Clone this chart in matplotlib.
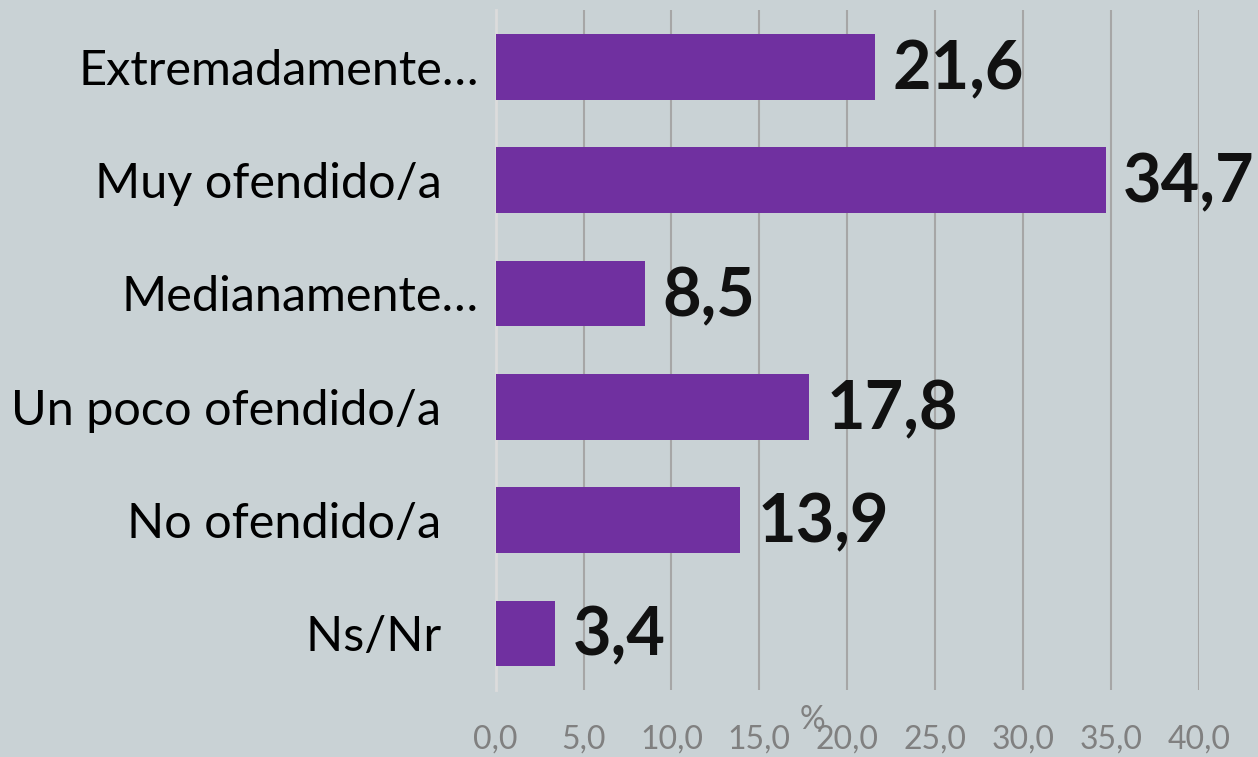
import matplotlib
matplotlib.use('Agg')
from matplotlib import pyplot as plt

categories = ['Extremadamente…', 'Muy ofendido/a   ', 'Medianamente…', 'Un poco ofendido/a   ',
              'No ofendido/a   ', 'Ns/Nr   ']
values = [21.6, 34.7, 8.5, 17.8, 13.9, 3.4]
xticks = [0, 5, 10, 15, 20, 25, 30, 35, 40]

bg = '#c9d2d5'
plt.rcParams['font.family'] = ['Lato', 'DejaVu Sans']

fig = plt.figure(figsize=(12.58, 7.57), dpi=100, facecolor=bg)
ax = fig.add_axes([0.394, 0.0885, 0.559, 0.898], facecolor=bg)

ypos = list(range(len(categories)))
ax.barh(ypos, values, height=0.58, color='#7030a0', zorder=3)
for y, v in zip(ypos, values):
    ax.text(v + 1.0, y + 0.03, f'{v:.1f}'.replace('.', ','), va='center', ha='left',
            fontsize=48, fontweight='bold', color='#111111', clip_on=False, zorder=4)

ax.set_ylim(5.5, -0.5)
ax.set_xlim(0, 40)
ax.set_yticks(ypos)
ax.set_yticklabels(categories, fontsize=35, color='black')
ax.set_xticks(xticks)
ax.set_xticklabels([f'{t:.1f}'.replace('.', ',') for t in xticks], fontsize=23, color='#808080')
ax.tick_params(axis='both', length=0)
ax.tick_params(axis='x', pad=25)
ax.tick_params(axis='y', pad=12)
ax.grid(axis='x', color='#a6a6a6', linewidth=1.5, zorder=0)
for s in ['top', 'right', 'bottom']:
    ax.spines[s].set_visible(False)
ax.spines['left'].set_color('#dcdcdc')
ax.spines['left'].set_linewidth(2)
ax.spines['left'].set_zorder(2)
ax.text(18.0, -0.022, '%', transform=ax.get_xaxis_transform(), ha='center', va='top',
        fontsize=23, color='#808080')

fig.savefig('out.png', dpi=100, facecolor=bg)
